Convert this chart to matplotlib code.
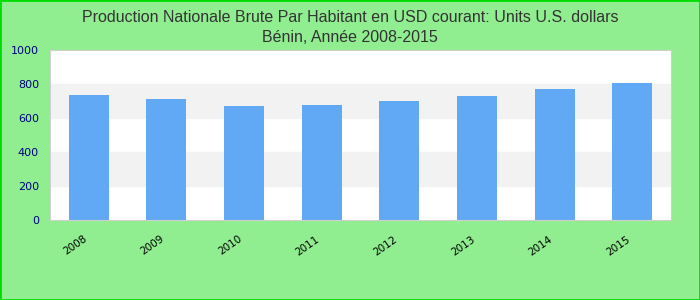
import matplotlib.pyplot as plt
import matplotlib.transforms as mtrans
from matplotlib.patches import Rectangle

years = ['2008', '2009', '2010', '2011', '2012', '2013', '2014', '2015']
values = [735, 712, 671, 676, 700, 729, 771, 806]

fig = plt.figure(figsize=(7, 3), dpi=100, facecolor='#90ee90')
ax = fig.add_axes([50/700, 80/300, 621/700, 170/300])
ax.set_facecolor('white')

# alternating bands
for lo in (200, 600):
    ax.axhspan(lo, lo + 200, color='#f2f2f2', zorder=0)

x = range(len(years))
ax.bar(x, values, width=0.515, color='#61a8f5', zorder=2)

ax.set_xlim(-0.5, len(years) - 0.5)
ax.set_ylim(0, 1000)
ax.set_yticks([0, 200, 400, 600, 800, 1000])
ax.set_xticks(list(x))
ax.set_xticklabels(years, rotation=35, fontsize=7.5, color='black', ha='right',
                   rotation_mode='anchor')
ax.tick_params(axis='y', labelsize=8, labelcolor='#000080', length=0, pad=8)
ax.tick_params(axis='x', length=0, pad=10)
shift = mtrans.ScaledTranslation(-6/100, 0, fig.dpi_scale_trans)
for lbl in ax.get_xticklabels():
    lbl.set_transform(lbl.get_transform() + shift)
for s in ax.spines.values():
    s.set_color('#d0d0d0')

fig.text(0.5, 0.965, 'Production Nationale Brute Par Habitant en USD courant: Units U.S. dollars\nBénin, Année 2008-2015',
         ha='center', va='top', fontsize=11.5, color='#333333', linespacing=1.35,
         family='Liberation Sans')

fig.patches.append(Rectangle((0, 0), 1, 1, transform=fig.transFigure, fill=False,
                             edgecolor='#00dd00', linewidth=2))

fig.savefig('out.png', dpi=100, facecolor=fig.get_facecolor())
